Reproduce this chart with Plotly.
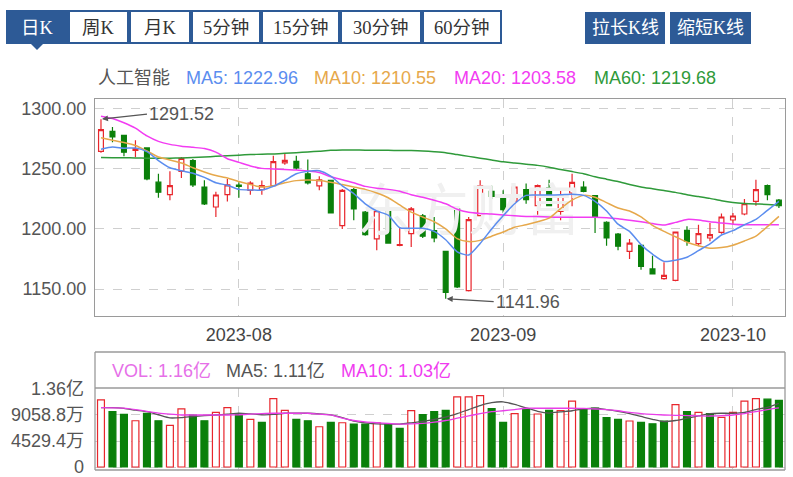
import plotly.graph_objects as go

# ---------------- data ----------------
dates = [
    "2023-07-14", "2023-07-17", "2023-07-18", "2023-07-19", "2023-07-20", "2023-07-21",
    "2023-07-24", "2023-07-25", "2023-07-26", "2023-07-27", "2023-07-28", "2023-07-31",
    "2023-08-01", "2023-08-02", "2023-08-03", "2023-08-04", "2023-08-07", "2023-08-08",
    "2023-08-09", "2023-08-10", "2023-08-11", "2023-08-14", "2023-08-15", "2023-08-16",
    "2023-08-17", "2023-08-18", "2023-08-21", "2023-08-22", "2023-08-23", "2023-08-24",
    "2023-08-25", "2023-08-28", "2023-08-29", "2023-08-30", "2023-08-31", "2023-09-01",
    "2023-09-04", "2023-09-05", "2023-09-06", "2023-09-07", "2023-09-08", "2023-09-11",
    "2023-09-12", "2023-09-13", "2023-09-14", "2023-09-15", "2023-09-18", "2023-09-19",
    "2023-09-20", "2023-09-21", "2023-09-22", "2023-09-25", "2023-09-26", "2023-09-27",
    "2023-09-28", "2023-10-09", "2023-10-10", "2023-10-11", "2023-10-12", "2023-10-13",
]
open_ = [1264.7, 1281.4, 1278.0, 1265.5, 1267.5, 1239.0, 1228.6, 1248.0, 1257.0, 1235.0,
         1218.3, 1228.6, 1236.5, 1232.2, 1232.8, 1236.1, 1255.0, 1256.4, 1246.0, 1236.0,
         1240.6, 1202.8, 1232.8, 1214.0, 1191.7, 1215.3, 1186.4, 1196.1, 1211.0, 1198.6,
         1181.4, 1216.7, 1148.6, 1211.1, 1231.4, 1228.6, 1223.0, 1232.8, 1219.4, 1234.2,
         1214.7, 1230.0, 1235.0, 1227.8, 1205.6, 1195.8, 1181.4, 1186.4, 1166.7, 1158.6,
         1157.2, 1198.9, 1187.8, 1192.5, 1197.2, 1207.5, 1212.5, 1223.0, 1236.1, 1224.0]
high = [1291.52, 1285.0, 1278.6, 1273.9, 1268.0, 1246.1, 1248.0, 1260.0, 1258.3, 1240.6,
        1231.1, 1241.7, 1238.9, 1239.7, 1240.3, 1261.1, 1262.5, 1261.1, 1257.8, 1243.9,
        1241.1, 1233.3, 1234.2, 1215.0, 1217.5, 1223.9, 1200.8, 1218.3, 1212.5, 1210.0,
        1181.5, 1217.2, 1210.0, 1240.6, 1236.1, 1232.2, 1236.1, 1237.8, 1237.0, 1241.1,
        1232.8, 1246.1, 1239.7, 1228.3, 1206.4, 1196.7, 1191.7, 1187.0, 1177.8, 1172.2,
        1197.5, 1202.2, 1203.6, 1205.0, 1212.8, 1213.3, 1225.0, 1241.1, 1237.0, 1225.0]
low = [1263.5, 1272.2, 1260.6, 1259.7, 1240.6, 1226.1, 1223.9, 1242.5, 1235.0, 1220.0,
       1210.0, 1223.0, 1226.0, 1228.6, 1228.6, 1235.0, 1253.6, 1249.4, 1237.0, 1232.2,
       1213.0, 1200.0, 1207.2, 1194.4, 1182.2, 1187.8, 1185.6, 1185.0, 1192.5, 1188.9,
       1141.96, 1150.8, 1148.0, 1210.6, 1225.0, 1213.3, 1214.7, 1221.1, 1210.6, 1218.9,
       1207.2, 1218.9, 1230.6, 1196.7, 1186.1, 1182.2, 1175.0, 1166.1, 1162.0, 1157.8,
       1156.5, 1186.1, 1185.6, 1189.7, 1196.0, 1203.6, 1211.5, 1219.4, 1223.9, 1217.5]
close = [1282.8, 1276.7, 1264.0, 1267.0, 1241.7, 1230.6, 1236.1, 1258.9, 1236.7, 1220.8,
         1228.3, 1236.7, 1235.5, 1238.3, 1236.1, 1256.1, 1257.2, 1250.8, 1238.3, 1241.0,
         1213.3, 1232.2, 1216.7, 1195.3, 1215.3, 1188.3, 1187.0, 1216.7, 1194.0, 1192.5,
         1147.2, 1151.7, 1207.8, 1236.1, 1227.2, 1216.1, 1235.0, 1224.4, 1236.1, 1219.4,
         1227.2, 1238.9, 1231.4, 1210.0, 1192.5, 1185.6, 1188.3, 1168.9, 1162.5, 1161.4,
         1197.5, 1189.7, 1196.1, 1195.3, 1210.0, 1210.8, 1221.1, 1232.8, 1228.6, 1219.5]

ma5 = [1266.5, 1268.3, 1267.3, 1267.5, 1264.5, 1257.0, 1251.0, 1248.5, 1246.5, 1243.0,
       1238.5, 1236.5, 1233.0, 1232.5, 1232.5, 1235.5, 1240.5, 1246.0, 1248.0, 1248.5,
       1244.0, 1236.0, 1229.5, 1221.0, 1215.0, 1211.5, 1201.0, 1200.6, 1200.6, 1198.0,
       1191.0, 1181.0, 1178.3, 1188.0, 1200.0, 1211.0, 1221.0, 1228.0, 1228.3, 1228.3,
       1228.5, 1229.0, 1228.0, 1223.0, 1215.0, 1204.0, 1198.0, 1187.0, 1179.0, 1173.0,
       1174.0, 1176.5, 1182.0, 1187.5, 1195.0, 1198.6, 1203.5, 1208.0, 1215.5, 1222.96]
ma10 = [1276.0, 1274.0, 1272.0, 1269.5, 1265.0, 1260.0, 1257.5, 1255.0, 1251.0, 1247.5,
        1244.5, 1242.5, 1239.5, 1237.0, 1235.0, 1236.0, 1238.5, 1240.3, 1240.8, 1240.5,
        1239.0, 1237.0, 1235.0, 1233.0, 1230.0, 1226.0, 1220.0, 1214.0, 1210.0, 1206.0,
        1200.0, 1192.0, 1189.5, 1190.5, 1194.0, 1197.5, 1201.5, 1203.5, 1206.0, 1209.0,
        1217.0, 1224.0, 1228.0, 1226.5, 1222.0, 1217.5, 1215.0, 1210.0, 1203.0, 1198.0,
        1193.5, 1189.0, 1186.0, 1184.0, 1184.5, 1186.5, 1190.0, 1194.0, 1202.0, 1210.55]
ma20 = [1294.0, 1292.0, 1288.5, 1284.0, 1277.5, 1273.0, 1270.5, 1269.0, 1268.0, 1267.0,
        1264.0, 1258.5, 1255.5, 1252.5, 1250.5, 1250.0, 1249.5, 1249.2, 1248.3, 1247.0,
        1243.5, 1241.0, 1238.5, 1235.5, 1234.0, 1233.0, 1231.5, 1228.5, 1226.5, 1224.0,
        1221.0, 1216.5, 1214.0, 1213.0, 1212.5, 1211.7, 1211.0, 1210.5, 1210.3, 1210.0,
        1209.7, 1209.7, 1209.7, 1209.7, 1209.3, 1208.5, 1207.3, 1206.0, 1204.5, 1203.3,
        1205.5, 1208.0, 1207.5, 1206.0, 1205.0, 1204.0, 1203.5, 1203.5, 1203.5, 1203.58]
ma60 = [1259.5, 1259.4, 1259.3, 1259.2, 1259.0, 1259.0, 1259.0, 1259.2, 1259.5, 1260.0,
        1260.5, 1261.0, 1261.5, 1262.0, 1262.3, 1262.5, 1263.0, 1263.5, 1264.2, 1264.8,
        1265.5, 1265.8, 1265.8, 1265.7, 1265.6, 1265.5, 1265.4, 1265.3, 1265.0, 1264.4,
        1263.6, 1262.0, 1260.5, 1259.0, 1257.5, 1256.0, 1255.0, 1254.0, 1253.0, 1251.5,
        1249.5, 1247.8, 1246.0, 1243.5, 1241.5, 1239.5, 1237.0, 1235.0, 1233.5, 1232.0,
        1230.5, 1228.5, 1227.0, 1225.5, 1223.5, 1222.0, 1221.2, 1220.8, 1220.5, 1219.68]

# volume in 万 (10k)
volume = [11690, 9636, 9180, 8060, 9355, 8060, 7250, 10110, 9058, 8060,
          9530, 10340, 9230, 8300, 7780, 11910, 9880, 8300, 8060, 7010,
          7780, 7710, 7480, 7480, 7710, 7480, 6730, 9810, 9110, 9636,
          9880, 12210, 12210, 12440, 10160, 7780, 9290, 10110, 9230, 9880,
          9810, 11460, 10110, 10280, 8590, 8300, 8010, 7780, 7530, 7980,
          10860, 9636, 9530, 9290, 8650, 9530, 11460, 11910, 11810, 11600]
vol_ma5 = [10340, 10340, 10200, 9900, 9640, 9100, 8550, 8600, 8800, 8950,
           9060, 9200, 9360, 9250, 9100, 9150, 9360, 9400, 9360, 9250,
           9060, 8600, 8000, 7700, 7500, 7480, 7480, 7700, 7950, 8300,
           8700, 9300, 10000, 10700, 11200, 11350, 10900, 10300, 9700, 9400,
           9600, 9800, 10100, 10230, 10000, 9700, 9300, 8800, 8300, 7900,
           8100, 8500, 8900, 9300, 9360, 9360, 9500, 10000, 10400, 11100]
vol_ma10 = [10340, 10300, 10250, 10000, 9700, 9400, 9200, 9060, 9060, 9060,
            9060, 9060, 9100, 9200, 9300, 9360, 9360, 9360, 9360, 9200,
            9060, 8500, 8100, 7850, 7710, 7600, 7480, 7500, 7600, 7800,
            8100, 8500, 8900, 9300, 9640, 9800, 10000, 10230, 10230, 10230,
            10230, 10230, 10200, 10100, 10000, 9800, 9500, 9300, 9150, 9060,
            9000, 8950, 8900, 8880, 8950, 9060, 9300, 9640, 10000, 10300]

price_ticks = [1150, 1200, 1250, 1300]
price_tick_text = ["1150.00", "1200.00", "1250.00", "1300.00"]
vol_ticks = [0, 4529.4, 9058.8, 13588.2]
vol_tick_text = ["0", "4529.4万", "9058.8万", "1.36亿"]
month_ticks = ["2023-08-01", "2023-09-01", "2023-10-09"]
month_tick_text = ["2023-08", "2023-09", "2023-10"]

tabs = ["日K", "周K", "月K", "5分钟", "15分钟", "30分钟", "60分钟"]
buttons = ["拉长K线", "缩短K线"]
title = "人工智能"

# ---------------- styling ----------------
W, H = 793, 477
FONT = "Liberation Sans, Arial, Noto Sans CJK SC, sans-serif"
SERIF = "Liberation Serif, Noto Sans CJK SC, serif"
RED = "#e8262c"
GREEN = "#0a800a"
BLUE = "#2d5a96"
C_MA5, C_MA10, C_MA20, C_MA60 = "#5b8def", "#e6a84b", "#f23cf2", "#2f9a3a"
FRAME = "#9a9a9a"
GRID = "#cfcfcf"


def px(x):
    return x / W


def py(y):
    return 1 - y / H


fig = go.Figure()

# watermark (drawn first so marks cover it)
fig.add_trace(go.Scatter(
    x=[dates[32]], y=[1211], mode="text", text=["东方财富"],
    textfont=dict(size=56, color="#f0f0f0", family="Noto Sans CJK SC"),
    hoverinfo="skip", xaxis="x", yaxis="y"))

fig.add_trace(go.Candlestick(
    x=dates, open=open_, high=high, low=low, close=close,
    increasing=dict(line=dict(color=RED, width=1.2), fillcolor="white"),
    decreasing=dict(line=dict(color=GREEN, width=1.2), fillcolor=GREEN),
    whiskerwidth=0, xaxis="x", yaxis="y"))

for vals, col in [(ma60, C_MA60), (ma20, C_MA20), (ma10, C_MA10), (ma5, C_MA5)]:
    fig.add_trace(go.Scatter(x=dates, y=vals, mode="lines",
                             line=dict(color=col, width=1.5, shape="spline", smoothing=0.6),
                             hoverinfo="skip", xaxis="x", yaxis="y"))

# volume colour: close vs previous close
up = [close[0] >= open_[0]] + [close[i] >= close[i - 1] for i in range(1, len(close))]
fig.add_trace(go.Bar(
    x=dates, y=volume, width=0.6,
    marker=dict(color=["white" if u else GREEN for u in up],
                line=dict(color=[RED if u else GREEN for u in up], width=1.2)),
    xaxis="x2", yaxis="y2"))
fig.add_trace(go.Scatter(x=dates, y=vol_ma5, mode="lines",
                         line=dict(color="#555555", width=1.3, shape="spline", smoothing=0.6),
                         xaxis="x2", yaxis="y2"))
fig.add_trace(go.Scatter(x=dates, y=vol_ma10, mode="lines",
                         line=dict(color="#e83ee8", width=1.3, shape="spline", smoothing=0.6),
                         xaxis="x2", yaxis="y2"))

XDOM = [px(95), px(785)]
XR = [-0.52, 59.53]

shapes = []
annotations = []

# tabs
tab_edges = [6, 68, 129, 191, 261, 340, 422, 502]
for k, t in enumerate(tabs):
    x0, x1 = tab_edges[k], tab_edges[k + 1]
    sel = k == 0
    shapes.append(dict(type="rect", xref="paper", yref="paper", layer="below",
                       x0=px(x0 + 1), x1=px(x1 - 1), y0=py(43), y1=py(11),
                       fillcolor=BLUE if sel else "white",
                       line=dict(color=BLUE, width=2)))
    annotations.append(dict(xref="paper", yref="paper", x=px((x0 + x1) / 2), y=py(28),
                            xanchor="center", yanchor="middle",
                            text=t, showarrow=False,
                            font=dict(size=18.5, family=SERIF, color="white" if sel else "#333333")))
shapes.append(dict(type="path", xref="paper", yref="paper", layer="below",
                   path=f"M {px(30)} {py(43)} L {px(44)} {py(43)} L {px(37)} {py(50)} Z",
                   fillcolor=BLUE, line=dict(width=0)))

for (x0, x1), t in zip([(585, 665), (670, 751)], buttons):
    shapes.append(dict(type="rect", xref="paper", yref="paper", layer="below",
                       x0=px(x0), x1=px(x1), y0=py(44), y1=py(12),
                       fillcolor=BLUE, line=dict(width=0)))
    annotations.append(dict(xref="paper", yref="paper", x=px((x0 + x1) / 2), y=py(28),
                            xanchor="center", yanchor="middle",
                            text=t, showarrow=False,
                            font=dict(size=18, family=SERIF, color="white")))

# main legend row
leg = [(96, title, "#555555"),
       (184, f"MA5: {ma5[-1]:.2f}", C_MA5),
       (312, f"MA10: {ma10[-1]:.2f}", C_MA10),
       (452, f"MA20: {ma20[-1]:.2f}", C_MA20),
       (592, f"MA60: {ma60[-1]:.2f}", C_MA60)]
for x, t, c in leg:
    annotations.append(dict(xref="paper", yref="paper", x=px(x), y=py(78), text=t,
                            xanchor="left", yanchor="middle", showarrow=False,
                            font=dict(size=18, family=FONT, color=c)))

# volume legend row
vleg = [(110, "VOL: 1.16亿", "#e670e8"),
        (224, "MA5: 1.11亿", "#555555"),
        (339, "MA10: 1.03亿", "#f03cf0")]
for x, t, c in vleg:
    annotations.append(dict(xref="paper", yref="paper", x=px(x), y=py(371), text=t,
                            xanchor="left", yanchor="middle", showarrow=False,
                            font=dict(size=18, family=FONT, color=c)))

# high / low markers
imax = high.index(max(high))
imin = low.index(min(low))
annotations.append(dict(x=dates[imax], y=high[imax], xref="x", yref="y",
                        text=f"{high[imax]:.2f}", showarrow=True, ax=46, ay=-5,
                        xanchor="left", yanchor="middle", arrowhead=2, arrowsize=1,
                        arrowwidth=1.2, arrowcolor="#555555", standoff=1,
                        font=dict(size=18, family=FONT, color="#555555")))
annotations.append(dict(x=dates[imin], y=low[imin], xref="x", yref="y",
                        text=f"{low[imin]:.2f}", showarrow=True, ax=48, ay=3,
                        xanchor="left", yanchor="middle", arrowhead=2, arrowsize=1,
                        arrowwidth=1.2, arrowcolor="#555555", standoff=1,
                        font=dict(size=18, family=FONT, color="#555555")))

# volume pane frame
for (x0, y0, x1, y1) in [(95, 352, 785, 352), (95, 388, 785, 388), (95, 352, 95, 470),
                         (785, 352, 785, 470), (95, 470, 785, 470)]:
    shapes.append(dict(type="line", xref="paper", yref="paper",
                       x0=px(x0), y0=py(y0), x1=px(x1), y1=py(y1),
                       line=dict(color=FRAME, width=1.3)))

# volume axis: 0 sits at y=467px, 13588 near y=389px; domain 388..470 px
V_PER_PX = 13760 / 79.0
VRANGE = [-3 * V_PER_PX, 13760]

fig.update_layout(
    width=W, height=H, margin=dict(l=0, r=0, t=0, b=0, pad=0, autoexpand=False),
    paper_bgcolor="white", plot_bgcolor="white",
    showlegend=False, boxgap=0.4,
    font=dict(family=FONT, size=18, color="#555555"),
    xaxis=dict(domain=XDOM, type="category", categoryorder="array", categoryarray=dates,
               range=XR, anchor="y", automargin=False,
               tickvals=month_ticks, ticktext=month_tick_text,
               showgrid=True, gridcolor=GRID, griddash="dash", gridwidth=1,
               showline=True, mirror=True, linecolor=FRAME, linewidth=1.3,
               ticks="", tickfont=dict(size=18, color="#444444"),
               rangeslider=dict(visible=False), ticklabelstandoff=2),
    yaxis=dict(domain=[py(316), py(99)], range=[1127.5, 1308.3], anchor="x",
               automargin=False,
               tickvals=price_ticks, ticktext=price_tick_text,
               showgrid=True, gridcolor=GRID, griddash="dash", gridwidth=1,
               showline=True, mirror=True, linecolor=FRAME, linewidth=1.3,
               zeroline=False, ticks="", tickfont=dict(size=18, color="#555555"),
               ticklabelstandoff=4),
    xaxis2=dict(domain=XDOM, type="category", categoryorder="array", categoryarray=dates,
                range=XR, anchor="y2", automargin=False,
                tickvals=month_ticks, showticklabels=False,
                showgrid=True, gridcolor=GRID, griddash="dash", gridwidth=1,
                showline=False, ticks=""),
    yaxis2=dict(domain=[py(470), py(388)], range=VRANGE, anchor="x2",
                automargin=False, ticklabeloverflow="allow",
                tickvals=vol_ticks, ticktext=vol_tick_text,
                showgrid=True, gridcolor=GRID, griddash="dash", gridwidth=1,
                showline=False, zeroline=False, ticks="",
                tickfont=dict(size=18, color="#555555"), ticklabelstandoff=10),
    shapes=shapes, annotations=annotations,
)

fig.write_html("out.html", config={"displayModeBar": False},
               post_script="document.body.style.margin='0';")
